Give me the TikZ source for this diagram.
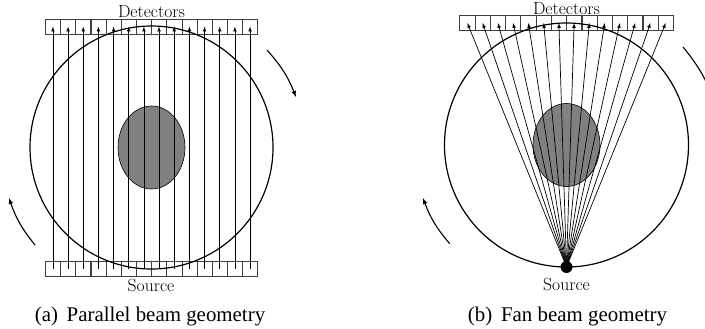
\documentclass[tikz,border=0pt]{standalone}
\usepackage{fontspec}
\newfontfamily\capfont{Liberation Serif}
\usetikzlibrary{arrows,positioning,calc}
\tikzset{
  cell/.style={draw=black!75,line width=.6pt,minimum width=15.2pt,minimum height=15.3pt,inner sep=0pt,outer sep=0pt},
  ray/.style={line width=.7pt,-latex},
  fanray/.style={line width=.7pt,-latex},
  orbit/.style={draw,line width=1.2pt},
  phantom/.style={draw,fill=black!50,line width=.6pt},
  spin/.style={line width=1.1pt,-latex},
  label/.style={font=\fontsize{17.6}{17.6}\selectfont,inner sep=0pt},
  caption/.style={font=\capfont\fontsize{20.9}{20.9}\selectfont,inner sep=0pt}
}
\begin{document}
\begin{tikzpicture}[x=1pt,y=-1pt]
    \useasboundingbox (0,0) rectangle (705,329);
    % parallel beam
    \coordinate (pc) at (151.5,147.5);
    \draw[phantom] (pc) ellipse[x radius=33.5,y radius=41.5];
    \foreach \i in {1,...,14} {
      \node[cell] (pd\i) at ({45.3+15.17*(\i-.5)},26.6) {};
      \node[cell] (ps\i) at ({45.3+15.17*(\i-.5)},269) {};
      \draw[ray] (ps\i.center) -- (pd\i.center);
    }
    \draw[orbit] (pc) circle[radius=121.5];
    \node[label] (pdlabel) at (151.5,12) {Detectors};
    \node[label] (pslabel) at (151,285) {Source};
    \node[caption] (pcap) at (150,317) {(a)\, Parallel beam geometry};
    \coordinate (pa1) at (267,50);
    \coordinate (pa2) at (296,97);
    \coordinate (pa3) at (35,245);
    \coordinate (pa4) at (9,198);
    \draw[spin] (pa1) to[bend left=10] (pa2);
    \draw[spin] (pa3) to[bend left=10] (pa4);
    % fan beam
    \coordinate (fc) at (566.5,145);
    \draw[phantom] (fc) ellipse[x radius=33.5,y radius=41.5];
    \node[circle,fill=black,minimum size=12pt,inner sep=0pt] (fsrc) at (566.5,267) {};
    \foreach \i in {1,...,14} {
      \node[cell] (fd\i) at ({459.7+15.26*(\i-.5)},23) {};
      \draw[fanray] (fsrc.center) -- (fd\i.center);
    }
    \draw[orbit] (fc) circle[radius=122];
    \node[label] (fdlabel) at (566.5,8.5) {Detectors};
    \node[label] (fslabel) at (566.5,284) {Source};
    \node[caption] (fcap) at (567.5,317) {(b)\, Fan beam geometry};
    \coordinate (fa1) at (683,47);
    \coordinate (fa2) at (712,95);
    \coordinate (fa3) at (449.7,243.7);
    \coordinate (fa4) at (423,198);
    \draw[spin] (fa1) to[bend left=8] (fa2);
    \draw[spin] (fa3) to[bend left=10] (fa4);
  \end{tikzpicture}
\end{document}
